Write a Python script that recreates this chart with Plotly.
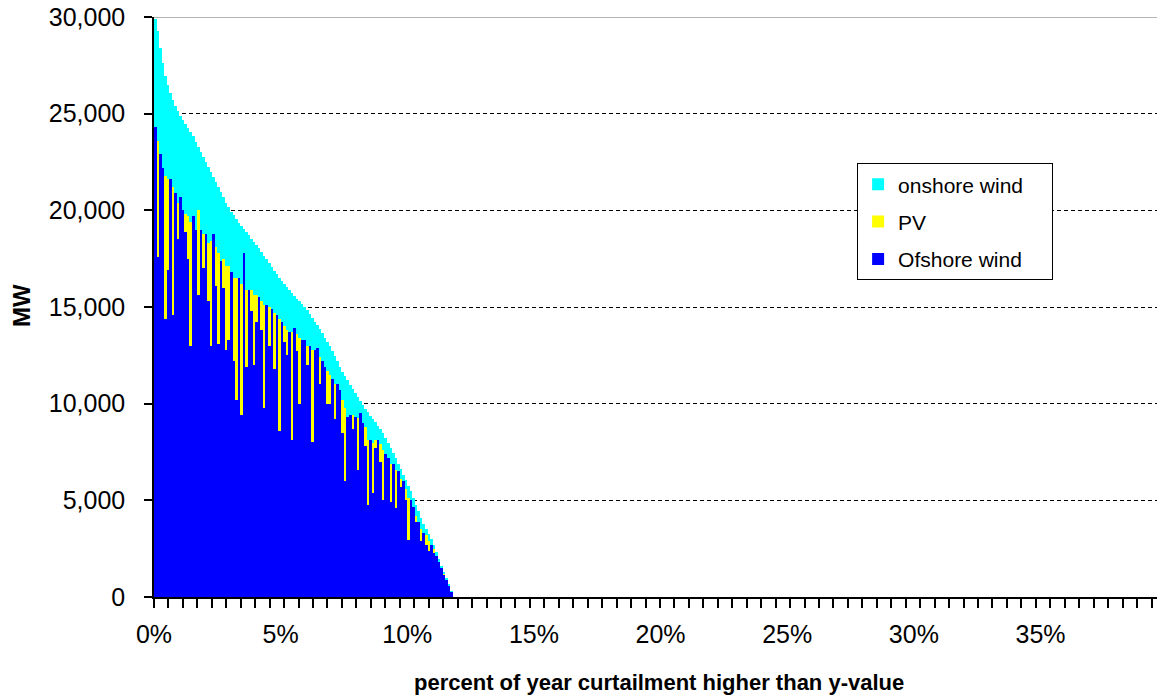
import plotly.graph_objects as go

# percent of year (bin start, 0.1% bins)
bin_start = [round(0.1 * i, 1) for i in range(118)]

total = [29900, 29300, 28400, 27600, 26950, 26500, 26050, 25700, 25400, 25130,
         24890, 24680, 24480, 24270, 24060, 23820, 23560, 23300, 23020, 22750,
         22490, 22230, 21980, 21720, 21460, 21200, 20930, 20670, 20400, 20150,
         19930, 19740, 19550, 19370, 19200, 19030, 18860, 18700, 18540, 18380,
         18210, 18030, 17840, 17650, 17460, 17260, 17060, 16870, 16690, 16510,
         16330, 16180, 16030, 15880, 15730, 15580, 15430, 15290, 15150, 15000,
         14820, 14630, 14440, 14250, 14050, 13850, 13640, 13420, 13200, 12980,
         12720, 12460, 12190, 11920, 11660, 11420, 11200, 10980, 10760, 10550,
         10340, 10130, 9930, 9740, 9560, 9380, 9200, 9030, 8870, 8700,
         8480, 8220, 7960, 7700, 7440, 7180, 6900, 6620, 6330, 6040,
         5750, 5460, 5130, 4780, 4430, 4070, 3780, 3520, 3260, 3000,
         2680, 2330, 1980, 1620, 1300, 990, 650, 300]

offshore = [24300, 17600, 22900, 22200, 14400, 16900, 21600, 14600, 20900, 18500,
            20700, 20000, 18900, 17500, 13000, 19700, 19000, 15600, 19000, 17000,
            18800, 15300, 13000, 18800, 16100, 13100, 17400, 16000, 12800, 13300,
            16800, 12200, 10200, 16500, 9400, 17800, 11900, 15900, 14800, 12000,
            14200, 15500, 13800, 9800, 15100, 13000, 14900, 11800, 14600, 8600,
            14200, 13200, 12500, 13700, 8100, 13900, 12700, 10000, 13300, 13300,
            12000, 13000, 8000, 12800, 12900, 11000, 12200, 11900, 10000, 10000,
            11300, 9200, 11000, 10700, 8500, 6000, 9300, 9400, 8700, 9300,
            6550, 9500, 9000, 7800, 4740, 8100, 5360, 7700, 8100, 7000,
            5000, 7400, 7200, 4900, 6900, 4590, 6500, 5700, 6000, 5000,
            2930, 5000, 4650, 3900, 3900, 2900, 3300, 2700, 2400, 2700,
            2300, 2100, 1800, 1500, 1150, 900, 580, 280]

pv = [0, 6000, 0, 0, 7400, 4700, 0, 6600, 0, 1900,
      0, 0, 900, 2200, 6400, 0, 0, 4400, 0, 1800,
      0, 3000, 5400, 0, 2000, 4700, 0, 1500, 4300, 3800,
      0, 4300, 6300, 0, 6800, 0, 4000, 0, 1100, 3600,
      1400, 0, 1500, 5300, 0, 2000, 0, 2900, 0, 5800,
      0, 800, 1300, 0, 5600, 0, 900, 3400, 0, 0,
      1000, 0, 4800, 0, 0, 1400, 0, 0, 1700, 1500,
      0, 1800, 0, 0, 1700, 3800, 0, 0, 700, 0,
      2700, 0, 0, 1000, 3400, 0, 2600, 400, 0, 900,
      2600, 0, 0, 2000, 0, 2000, 0, 400, 0, 600,
      2200, 0, 0, 300, 0, 600, 0, 500, 500, 0,
      200, 0, 0, 0, 50, 0, 20, 0]

onshore = [t - o - p for t, o, p in zip(total, offshore, pv)]
x_center = [b + 0.05 for b in bin_start]

x_tick_vals = [0, 5, 10, 15, 20, 25, 30, 35]
x_tick_text = ["0%", "5%", "10%", "15%", "20%", "25%", "30%", "35%"]

FONT = "Liberation Sans, Arial, sans-serif"
PAD = "\u00a0\u00a0\u00a0\u00a0"

fig = go.Figure()
fig.add_trace(go.Bar(x=x_center, y=offshore, width=0.1, name="Ofshore wind" + PAD,
                     legendgroup="off", legendrank=3,
                     marker=dict(color="#0000FF", line=dict(width=0))))
fig.add_trace(go.Bar(x=x_center, y=pv, width=0.1, name="PV" + PAD,
                     legendgroup="pv", legendrank=2,
                     marker=dict(color="#FFFF00", line=dict(width=0))))
fig.add_trace(go.Bar(x=x_center, y=onshore, width=0.1, name="onshore wind" + PAD,
                     legendgroup="on", legendrank=1,
                     marker=dict(color="#00FFFF", line=dict(width=0))))

fig.update_layout(
    width=1157, height=695,
    margin=dict(l=154, r=0, t=17, b=98),
    paper_bgcolor="white", plot_bgcolor="white",
    barmode="stack", bargap=0,
    font=dict(family=FONT, color="black"),
    showlegend=True,
    legend=dict(x=0.701, y=0.748, xanchor="left", yanchor="top",
                bordercolor="black", borderwidth=1, bgcolor="white",
                traceorder="grouped", tracegroupgap=7,
                font=dict(size=21, family=FONT)),
    xaxis=dict(range=[0, 39.6], tickvals=x_tick_vals, ticktext=x_tick_text,
               ticks="outside", ticklen=9, tickcolor="rgba(0,0,0,0)",
               ticklabelstandoff=5, automargin=False, ticklabeloverflow="allow",
               tickfont=dict(size=25, family=FONT),
               showline=True, linecolor="black", linewidth=1.5,
               showgrid=False, zeroline=False,
               minor=dict(ticks="outside", ticklen=9, tick0=0, dtick=50 / 87.6,
                          tickcolor="black", tickwidth=1.5, showgrid=False)),
    yaxis=dict(range=[0, 30000], dtick=5000, tickformat=",",
               ticks="outside", ticklen=8, tickcolor="black", tickwidth=1.5,
               ticklabelstandoff=14, automargin=False, ticklabeloverflow="allow",
               tickfont=dict(size=25, family=FONT),
               showline=True, linecolor="black", linewidth=1.5,
               showgrid=True, gridcolor="black", gridwidth=1, griddash="4px,3px",
               zeroline=False),
)

fig.add_shape(type="line", xref="paper", yref="y", x0=0, x1=1, y0=30000, y1=30000,
              line=dict(color="#9a9a9a", width=1.5))

fig.add_annotation(text="<b>percent of year curtailment higher than y-value</b>",
                   xref="paper", yref="paper", x=0.503, y=-0.147,
                   xanchor="center", yanchor="middle", showarrow=False,
                   font=dict(size=22, family=FONT))
fig.add_annotation(text="<b>MW</b>", textangle=-90,
                   xref="paper", yref="paper", x=-0.1319, y=0.503,
                   xanchor="center", yanchor="middle", showarrow=False,
                   font=dict(size=24, family=FONT))

# remove the default 8px page margin so the figure sits at the window origin
fig.write_html("out.html",
               config={"displayModeBar": False},
               post_script="document.body.style.margin='0';document.body.style.overflow='hidden';")
